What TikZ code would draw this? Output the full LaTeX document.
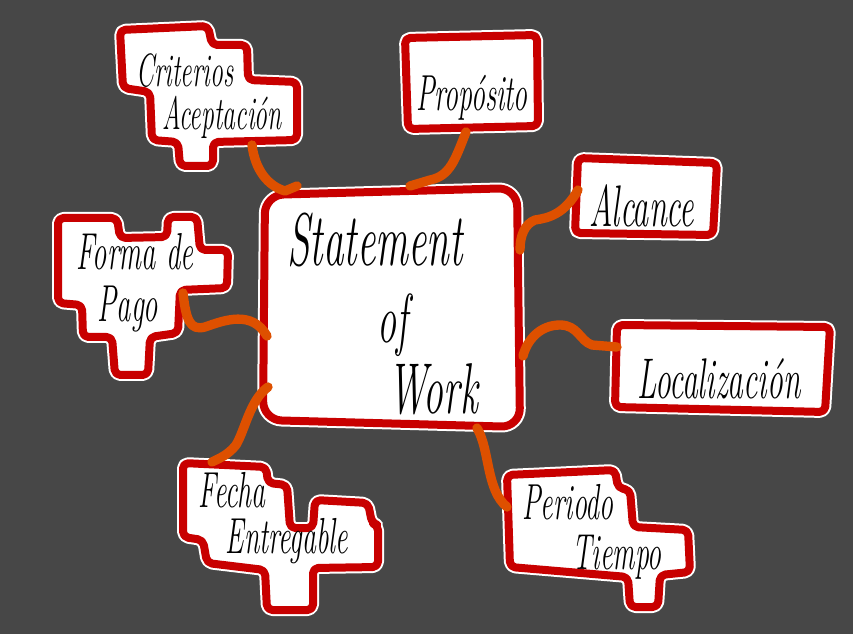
\documentclass[tikz,border=0pt]{standalone}
\usepackage{fontspec}
\newfontfamily\hand[FakeStretch=0.55]{Latin Modern Roman}
\definecolor{bg}{RGB}{71,71,71}
\definecolor{boxred}{RGB}{200,0,0}
\definecolor{connorange}{RGB}{222,80,0}
\begin{document}
\begin{tikzpicture}[x=0.75pt,y=-0.75pt,
  halo/.style={draw=white,line width=9pt,line join=round},
  redbox/.style={fill=white,draw=boxred,line width=6pt,line join=round},
  conn/.style={draw=connorange,line width=7pt,line cap=round,line join=round},
  lbl/.style={inner sep=0pt,anchor=base,text=black},
  fs/.style={font=\hand\itshape\fontsize{#1}{#1}\selectfont}]
\fill[bg] (0,0) rectangle (853,634);
\useasboundingbox (0,0) rectangle (853,634);

% ---- box outlines ----
\def\crit{(120,30)--(208,26)--(212,45)--(247,45)--(248,80)--(297,82)--(297,140)--(213,142)--(213,166)--(180,166)--(178,142)--(152,140)--(150,92)--(123,88)--cycle}
\def\prop{(405,38)--(537,35)--(538,126)--(408,129)--cycle}
\def\alca{(578,158)--(717,163)--(713,235)--(575,233)--cycle}
\def\loca{(617,325)--(830,327)--(825,412)--(615,407)--cycle}
\def\form{(58,218)--(117,218)--(120,238)--(167,237)--(168,217)--(197,217)--(200,250)--(228,250)--(227,288)--(180,290)--(178,333)--(150,337)--(148,375)--(115,375)--(112,337)--(83,337)--(82,305)--(58,303)--cycle}
\def\fech{(183,463)--(266,467)--(268,483)--(287,485)--(290,528)--(313,528)--(315,500)--(368,503)--(372,523)--(378,525)--(378,567)--(313,568)--(313,610)--(267,610)--(265,570)--(207,563)--(203,540)--(183,537)--cycle}
\def\peri{(507,475)--(615,470)--(618,488)--(630,490)--(633,527)--(688,530)--(690,572)--(660,575)--(658,607)--(630,607)--(628,577)--(510,567)--cycle}
\def\cent{(265,195)--(517,188)--(520,427)--(263,420)--cycle}

\foreach \s in {\crit,\prop,\alca,\loca,\form,\fech,\peri}{
  \path[halo,rounded corners=4pt] \s;
}
\path[halo,rounded corners=14pt] \cent;
\foreach \s in {\crit,\prop,\alca,\loca,\form,\fech,\peri}{
  \path[redbox,rounded corners=4pt] \s;
}
\path[redbox,rounded corners=14pt] \cent;

% ---- labels ----
\node[lbl,fs=35] (crit1) at (185,87) {Criterios};
\node[lbl,fs=35] (crit2) at (222,130) {Aceptación};
\node[lbl,fs=38] (prop) at (472,111) {Propósito};
\node[lbl,fs=44] (alca) at (642,227) {Alcance};
\node[lbl,fs=43] (loca) at (719,398) {Localización};
\node[lbl,fs=39] (form1) at (135,270) {Forma de};
\node[lbl,fs=39] (form2) at (128,322) {Pago};
\node[lbl,fs=38] (fech1) at (232,507) {Fecha};
\node[lbl,fs=38] (fech2) at (287,553) {Entregable};
\node[lbl,fs=38] (peri1) at (568,519) {Periodo};
\node[lbl,fs=38] (peri2) at (617,569) {Tiempo};
\node[lbl,fs=56] (sow1) at (375,266) {Statement};
\node[lbl,fs=52] (sow2) at (393,343) {of};
\node[lbl,fs=54] (sow3) at (433,414) {Work};

% ---- connector end points ----
\coordinate (critE) at (252,145);
\coordinate (critC) at (285,191);
\coordinate (propE) at (466,132);
\coordinate (propC) at (410,186);
\coordinate (alcaE) at (578,190);
\coordinate (alcaC) at (520,250);
\coordinate (locaE) at (617,347);
\coordinate (locaC) at (523,356);
\coordinate (formE) at (183,293);
\coordinate (formC) at (267,336);
\coordinate (fechE) at (212,462);
\coordinate (fechC) at (268,387);
\coordinate (periE) at (507,507);
\coordinate (periC) at (477,428);

% ---- connectors ----
\draw[conn] (critE) .. controls (255,170) and (268,186) .. (critC) -- (297,186);
\draw[conn] (propE) .. controls (455,160) and (450,176) .. (430,180) -- (propC);
\draw[conn] (alcaE) .. controls (565,213) and (550,218) .. (535,220) .. controls (525,224) and (520,235) .. (alcaC);
\draw[conn] (locaE) -- (592,345) .. controls (580,341) and (578,325) .. (560,325) .. controls (540,325) and (527,340) .. (locaC);
\draw[conn] (formE) .. controls (186,320) and (190,331) .. (205,327) .. controls (225,320) and (252,310) .. (formC);
\draw[conn] (fechC) .. controls (250,400) and (245,430) .. (236,445) .. controls (228,455) and (220,458) .. (fechE);
\draw[conn] (periC) .. controls (490,450) and (486,490) .. (periE);
\end{tikzpicture}
\end{document}
